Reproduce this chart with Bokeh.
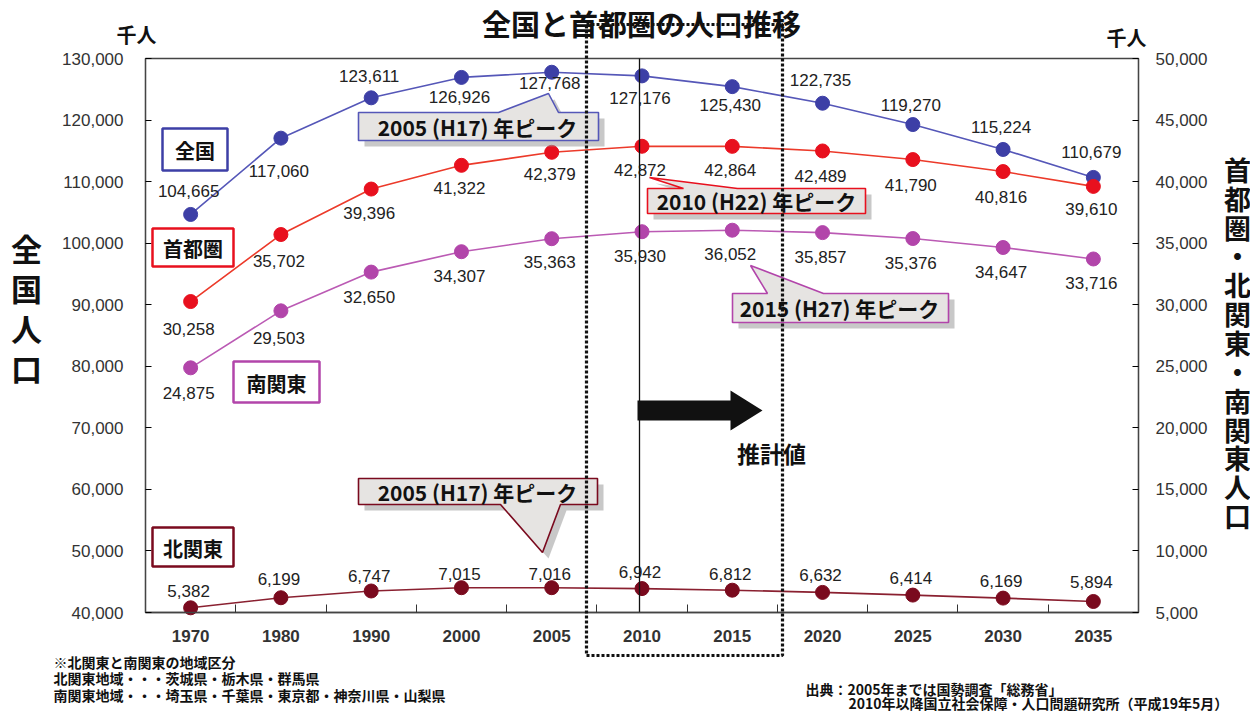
from bokeh.plotting import figure
from bokeh.models import (Range1d, LinearAxis, FixedTicker, NumeralTickFormatter,
                          Label, PolyAnnotation, BoxAnnotation)
from bokeh.core.properties import value
from bokeh.embed import file_html
from bokeh.resources import INLINE

# ---------------- data ----------------
years = ["1970", "1980", "1990", "2000", "2005", "2010", "2015", "2020", "2025", "2030", "2035"]
zenkoku = [104665, 117060, 123611, 126926, 127768, 127176, 125430, 122735, 119270, 115224, 110679]
shutoken = [30258, 35702, 39396, 41322, 42379, 42872, 42864, 42489, 41790, 40816, 39610]
minami = [24875, 29503, 32650, 34307, 35363, 35930, 36052, 35857, 35376, 34647, 33716]
kita = [5382, 6199, 6747, 7015, 7016, 6942, 6812, 6632, 6414, 6169, 5894]
left_ticks = [40000, 50000, 60000, 70000, 80000, 90000, 100000, 110000, 120000, 130000]
right_ticks = [5000, 10000, 15000, 20000, 25000, 30000, 35000, 40000, 45000, 50000]

# ---------------- styles ----------------
C_Z, C_Z_LINE = "#3d3fa6", "#5557b8"
C_S, C_S_LINE = "#e8101e", "#ec3a2a"
C_M, C_M_LINE = "#b245aa", "#bb5ab4"
C_K, C_K_LINE = "#7a0a1e", "#8a2030"
JP = "Noto Sans CJK JP"
NUM = "Liberation Sans"

off_z = [-23, 33, -22, 20, 11, 22, 18, -23, -20, -22, -25]
off_s = [27, 26, 24, 23, 22, 24, 24, 25, 25, 25, 23]
off_m = [25, 27, 25, 24, 23, 24, 24, 24, 24, 24, 24]
off_k = [-17, -19, -15, -14, -14, -17, -16, -17, -17, -17, -19]

W, H = 1250, 711
# plot area (pixels): left 145, right 1138, top 58, bottom 612
PL, PR, PT, PB = 145.0, 1138.0, 58.0, 612.0
N = len(years)
L0, L1 = left_ticks[0], left_ticks[-1]
R0, R1 = right_ticks[0], right_ticks[-1]


def dx(ix):
    return (ix - PL) * N / (PR - PL)


def dy(iy):
    return L1 - (iy - PT) * (L1 - L0) / (PB - PT)


def ry(iy):
    return R1 - (iy - PT) * (R1 - R0) / (PB - PT)


p = figure(width=W, height=H, output_backend="svg", toolbar_location=None,
           x_range=Range1d(dx(0), dx(W)), y_range=Range1d(dy(H), dy(0)), title=None)
p.extra_y_ranges = {"right": Range1d(ry(H), ry(0))}
p.min_border = 0
p.grid.visible = False
p.outline_line_color = None
p.background_fill_color = "white"
p.border_fill_color = "white"

xs = [i + 0.5 for i in range(N)]

# plot-area frame
p.add_layout(BoxAnnotation(left=0, right=N, bottom=L0, top=L1, fill_color=None, fill_alpha=0,
                           line_color="#444444", line_alpha=1.0, line_width=1.3, level="underlay"))

# x axis (fixed at bottom of plot area)
xa = p.xaxis[0]
xa.fixed_location = L0
xa.bounds = (0, N)
xa.ticker = FixedTicker(ticks=xs, minor_ticks=list(range(1, N)))
xa.major_label_overrides = {x: y for x, y in zip(xs, years)}
xa.major_tick_line_color = None
xa.major_tick_out = 0
xa.minor_tick_in = 8
xa.minor_tick_out = 0
xa.minor_tick_line_color = "#333333"
xa.axis_line_color = "#444444"
xa.axis_line_width = 1.3
xa.major_label_standoff = 17
xa.major_label_text_font = NUM
xa.major_label_text_font_style = "bold"
xa.major_label_text_font_size = "17px"
xa.major_label_text_color = "#333333"

# left axis
ya = p.yaxis[0]
ya.fixed_location = 0
ya.bounds = (L0, L1)
ya.ticker = FixedTicker(ticks=left_ticks)
ya.formatter = NumeralTickFormatter(format="0,0")
ya.major_tick_in = 6
ya.major_tick_out = 0
ya.minor_tick_line_color = None
ya.axis_line_color = "#444444"
ya.axis_line_width = 1.3
ya.major_label_standoff = 22
ya.major_label_text_font = NUM
ya.major_label_text_font_size = "17px"
ya.major_label_text_color = "#333333"

# right axis
ra = LinearAxis(y_range_name="right", ticker=FixedTicker(ticks=right_ticks),
                formatter=NumeralTickFormatter(format="0,0"))
ra.fixed_location = N
ra.bounds = (R0, R1)
ra.major_tick_in = 6
ra.major_tick_out = 0
ra.minor_tick_line_color = None
ra.axis_line_color = "#444444"
ra.axis_line_width = 1.3
ra.major_label_standoff = 17
ra.major_label_text_font = NUM
ra.major_label_text_font_size = "17px"
ra.major_label_text_color = "#333333"
p.add_layout(ra, "right")


def fmt(vals):
    return [f"{v:,}" for v in vals]


def series(vals, color, lcolor, offs, yr="default"):
    p.line(xs, vals, line_color=lcolor, line_width=1.6, y_range_name=yr)
    p.scatter(xs, vals, size=14, fill_color=color, line_color=color, y_range_name=yr)
    p.text(xs, vals, text=fmt(vals), y_offset=offs, x_offset=-2, y_range_name=yr,
           text_font=value(NUM), text_font_size="17px", text_align="center",
           text_baseline="middle", text_color="#222222")


series(zenkoku, C_Z, C_Z_LINE, off_z)
series(shutoken, C_S, C_S_LINE, off_s, "right")
series(minami, C_M, C_M_LINE, off_m, "right")
series(kita, C_K, C_K_LINE, off_k, "right")


def poly(pts, **kw):
    return PolyAnnotation(xs=[dx(a) for a, b in pts], ys=[dy(b) for a, b in pts], **kw)


def label(ix, iy, text, size, **kw):
    d = dict(text_font=JP, text_font_style="bold", text_color="#111111",
             text_align="center", text_baseline="middle")
    d.update(kw)
    p.add_layout(Label(x=dx(ix), y=dy(iy), text=text, text_font_size=f"{size}px", **d))


callouts = [
    ([(358, 112), (498, 112), (548, 93), (558, 112), (598, 112), (598, 140), (358, 140)],
     C_Z_LINE, (477, 126), "2005 (H17) 年ピーク"),
    ([(647, 188), (683, 188), (649, 177), (737, 188), (865, 188), (865, 213), (647, 213)],
     C_S, (756, 200), "2010 (H22) 年ピーク"),
    ([(732, 293), (767, 293), (750, 265), (823, 293), (948, 293), (948, 322), (732, 322)],
     C_M, (839, 307), "2015 (H27) 年ピーク"),
    ([(358, 478), (597, 478), (597, 504), (560, 504), (542, 552), (500, 504), (358, 504)],
     C_K, (477, 491), "2005 (H17) 年ピーク"),
]
for pts, col, tc, txt in callouts:
    sh = [(a + 6, b + 6) for a, b in pts]
    p.add_layout(poly(sh, fill_color="#9a9a9a", fill_alpha=0.55, line_color=None))
for pts, col, tc, txt in callouts:
    p.add_layout(poly(pts, fill_color="#e6e4e2", fill_alpha=1.0, line_color=col,
                      line_alpha=1.0, line_width=1.6))
    label(tc[0], tc[1], txt, 21)

# series name boxes
boxes = [
    ((162, 128, 227, 170), C_Z, "全国"),
    ((152, 228, 233, 266), C_S, "首都圏"),
    ((233, 361, 319, 402), C_M, "南関東"),
    ((152, 527, 233, 566), C_K, "北関東"),
]
for (l, t, r, b), col, txt in boxes:
    p.add_layout(BoxAnnotation(left=dx(l), right=dx(r), top=dy(t), bottom=dy(b),
                               fill_color="white", fill_alpha=1.0, line_color=col,
                               line_alpha=1.0, line_width=2.5))
    label((l + r) / 2, (t + b) / 2 + 1, txt, 20)

# 2010 line
p.segment(x0=[dx(639)], y0=[L0], x1=[dx(639)], y1=[L1], line_color="#111111", line_width=1.3)

# arrow
p.add_layout(poly([(637, 400), (730, 400), (730, 390), (762, 410), (730, 430), (730, 420), (637, 420)],
                  fill_color="#111111", fill_alpha=1.0, line_color=None))
label(771, 452, "推計値", 23)

# dotted rectangle
p.add_layout(poly([(586, 24), (782, 24), (782, 655), (586, 655)],
                  fill_color=None, fill_alpha=0, line_color="#111111", line_alpha=1.0,
                  line_width=3.2, line_dash="3 2"))

# titles and axis captions
label(641, 22, "全国と首都圏の人口推移", 29)
label(136, 34, "千人", 20)
label(1126, 37, "千人", 20)
label(26, 307, "全\n国\n人\n口", 31, text_line_height=0.89)
label(1237, 342, "首\n都\n圏\n・\n北\n関\n東\n・\n南\n関\n東\n人\n口", 27, text_line_height=0.74)

# footnotes
label(53, 678, "※北関東と南関東の地域区分\n北関東地域・・・茨城県・栃木県・群馬県\n南関東地域・・・埼玉県・千葉県・東京都・神奈川県・山梨県",
      14, text_align="left", text_line_height=0.82)
label(805, 688, "出典：2005年までは国勢調査「総務省」", 14, text_align="left")
label(848, 702, "2010年以降国立社会保障・人口問題研究所（平成19年5月）", 14, text_align="left")

open("out.html", "w").write(file_html(p, INLINE))
